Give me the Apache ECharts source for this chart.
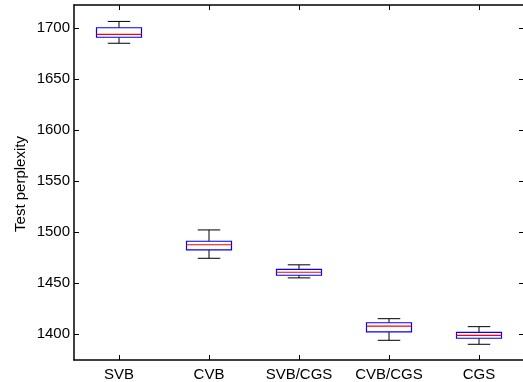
<!DOCTYPE html>
<html>
<head>
<meta charset="utf-8">
<script src="https://cdn.jsdelivr.net/npm/echarts@6/dist/echarts.min.js"></script>
<style>
  html, body { margin: 0; padding: 0; background: #fff; }
  #chart { width: 523px; height: 382px; }
</style>
</head>
<body>
<div id="chart"></div>
<script>
// Test perplexity per inference method (box statistics)
const categories = ['SVB', 'CVB', 'SVB/CGS', 'CVB/CGS', 'CGS'];
const whiskerLow  = [1685.0, 1474.2, 1455.0, 1393.8, 1389.9];
const quartile1   = [1690.9, 1482.4, 1457.6, 1402.0, 1395.8];
const medians     = [1693.8, 1487.5, 1460.5, 1407.8, 1398.7];
const quartile3   = [1700.2, 1490.9, 1463.3, 1411.0, 1401.6];
const whiskerHigh = [1706.4, 1502.0, 1467.8, 1415.0, 1407.2];
const yTickValues = [1400, 1450, 1500, 1550, 1600, 1650, 1700];

const boxData = categories.map((c, i) => [i, whiskerLow[i], quartile1[i], medians[i], quartile3[i], whiskerHigh[i]]);

const FONT = '"Liberation Sans", Arial, Helvetica, sans-serif';

function renderBox(params, api) {
  const i = api.value(0);
  const band = api.size([1, 0])[0];
  const halfBox = band * 0.25;
  const halfCap = band * 0.125;
  const pLow = api.coord([i, api.value(1)]);
  const pQ1 = api.coord([i, api.value(2)]);
  const pMed = api.coord([i, api.value(3)]);
  const pQ3 = api.coord([i, api.value(4)]);
  const pHigh = api.coord([i, api.value(5)]);
  const x = pMed[0];
  const black = { stroke: '#000', lineWidth: 1, fill: null };
  return {
    type: 'group',
    children: [
      { type: 'line', shape: { x1: x, y1: pQ3[1], x2: x, y2: pHigh[1] }, style: black },
      { type: 'line', shape: { x1: x, y1: pQ1[1], x2: x, y2: pLow[1] }, style: black },
      { type: 'line', shape: { x1: x - halfCap, y1: pHigh[1], x2: x + halfCap, y2: pHigh[1] }, style: black },
      { type: 'line', shape: { x1: x - halfCap, y1: pLow[1], x2: x + halfCap, y2: pLow[1] }, style: black },
      { type: 'rect', shape: { x: x - halfBox, y: pQ3[1], width: halfBox * 2, height: pQ1[1] - pQ3[1] },
        style: { stroke: '#0000ff', lineWidth: 1.2, fill: '#fff' } },
      { type: 'line', shape: { x1: x - halfBox, y1: pMed[1], x2: x + halfBox, y2: pMed[1] },
        style: { stroke: '#ff0000', lineWidth: 1.2 } }
    ]
  };
}

const chart = echarts.init(document.getElementById('chart'), null, { renderer: 'canvas' });

const axisLine = { show: true, lineStyle: { color: '#000', width: 1.5 } };
const yCommon = {
  type: 'value',
  min: 1374.5,
  max: 1722.5,
  splitLine: { show: false },
  axisLine: axisLine,
  axisTick: { show: true, inside: true, length: 5, customValues: yTickValues, lineStyle: { color: '#000', width: 1 } }
};

chart.setOption({
  animation: false,
  backgroundColor: '#fff',
  grid: { left: 74, top: 5, width: 450, height: 355, outerBoundsMode: 'none', containLabel: false },
  xAxis: [
    {
      type: 'category', data: categories, position: 'bottom', boundaryGap: true,
      axisLine: axisLine,
      axisTick: { show: true, inside: true, length: 5, alignWithLabel: true, lineStyle: { color: '#000', width: 1 } },
      axisLabel: { color: '#000', fontFamily: FONT, fontSize: 15, margin: 7, interval: 0 },
      splitLine: { show: false }
    },
    {
      type: 'category', data: categories, position: 'top', boundaryGap: true,
      axisLine: axisLine,
      axisTick: { show: true, inside: true, length: 5, alignWithLabel: true, lineStyle: { color: '#000', width: 1 } },
      axisLabel: { show: false },
      splitLine: { show: false }
    }
  ],
  yAxis: [
    Object.assign({}, yCommon, {
      position: 'left',
      axisLabel: {
        show: true, customValues: yTickValues, color: '#000', fontFamily: FONT, fontSize: 15, margin: 4,
        formatter: (v) => String(v)
      }
    }),
    Object.assign({}, yCommon, {
      position: 'right',
      axisLabel: { show: false }
    })
  ],
  graphic: [
    {
      type: 'text', x: 21, y: 184, rotation: Math.PI / 2,
      style: { text: 'Test perplexity', fill: '#000', font: '15px ' + FONT, textAlign: 'center', textVerticalAlign: 'middle' }
    }
  ],
  series: [
    {
      type: 'custom',
      xAxisIndex: 0,
      yAxisIndex: 0,
      renderItem: renderBox,
      encode: { x: 0, y: [1, 2, 3, 4, 5] },
      data: boxData
    }
  ]
});
</script>
</body>
</html>
